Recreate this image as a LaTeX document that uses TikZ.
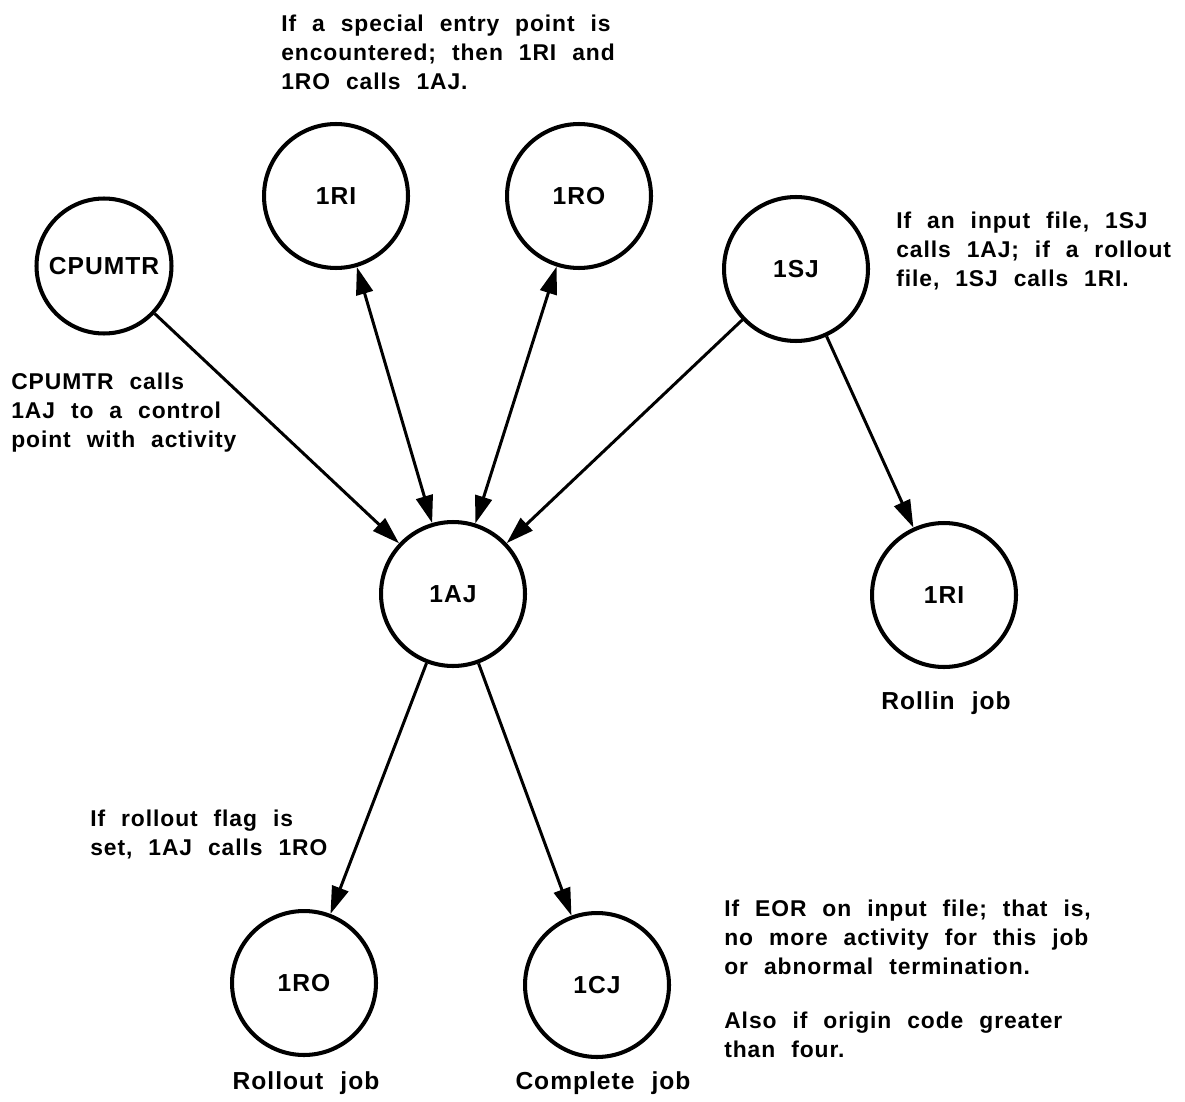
\documentclass[tikz,border=0pt]{standalone}
\usepackage{fontspec}
\setmainfont{Liberation Sans}[LetterSpace=4, WordSpace=2.2]
\usetikzlibrary{arrows.meta}
\tikzset{
  proc/.style ={circle, draw=black, line width=2.3pt, fill=white, minimum size=2.88cm, inner sep=0pt, font=\bfseries\fontsize{14}{16}\selectfont},
  note/.style ={align=left, inner sep=0pt, font=\bfseries\fontsize{13}{16.5}\selectfont},
  joblbl/.style ={inner sep=0pt, font=\bfseries\fontsize{14}{16}\selectfont},
  e/.style    ={-{Triangle[length=5.5mm,width=3.4mm]}, line width=1.7pt},
  ee/.style   ={{Triangle[length=5.5mm,width=3.4mm]}-{Triangle[length=5.5mm,width=3.4mm]}, line width=1.7pt},
}
\begin{document}
\begin{tikzpicture}[x=0.02cm,y=-0.02cm]
\useasboundingbox (0,0) rectangle (1185,1101);
% calling PPs
\node[proc, minimum size=2.7cm] (cpu) at (104,266) {CPUMTR};
\node[proc] (ri)  at (336,196) {1RI};
\node[proc] (ro)  at (579,196) {1RO};
\node[proc] (sj)  at (796,269) {1SJ};
% the job advancer
\node[proc] (aj)  at (453,594) {1AJ};
% what it hands over to
\node[proc] (rib) at (944,595) {1RI};
\node[proc] (rob) at (304,983) {1RO};
\node[proc] (cj)  at (597,985) {1CJ};
\draw[e]  (cpu) -- (aj);
\draw[ee] (ri) -- (aj);
\draw[ee] (ro) -- (aj);
\draw[e]  (sj) -- (aj);
\draw[e]  (sj) -- (rib);
\draw[e]  (aj) -- (rob);
\draw[e]  (aj) -- (cj);
% notes
\node[note, anchor=north west] (nspec) at (281,15) {If a special entry point is\\encountered; then 1RI and\\1RO calls 1AJ.};
\node[note, anchor=north west] (nsj) at (896,212) {If an input file, 1SJ\\calls 1AJ; if a rollout\\file, 1SJ calls 1RI.};
\node[note, anchor=north west] (ncpu) at (11,373) {CPUMTR calls\\1AJ to a control\\point with activity};
\node[note, anchor=north west] (nflag) at (90,810) {If rollout flag is\\set, 1AJ calls 1RO};
\node[note, anchor=north west] (neor) at (724,900) {If EOR on input file; that is,\\no more activity for this job\\or abnormal termination.};
\node[note, anchor=north west] (norig) at (724,1012) {Also if origin code greater\\than four.};
\node[joblbl] (lrib) at (946,703) {Rollin job};
\node[joblbl] (lrob) at (306,1083) {Rollout job};
\node[joblbl] (lcj)  at (603,1083) {Complete job};
\end{tikzpicture}
\end{document}
